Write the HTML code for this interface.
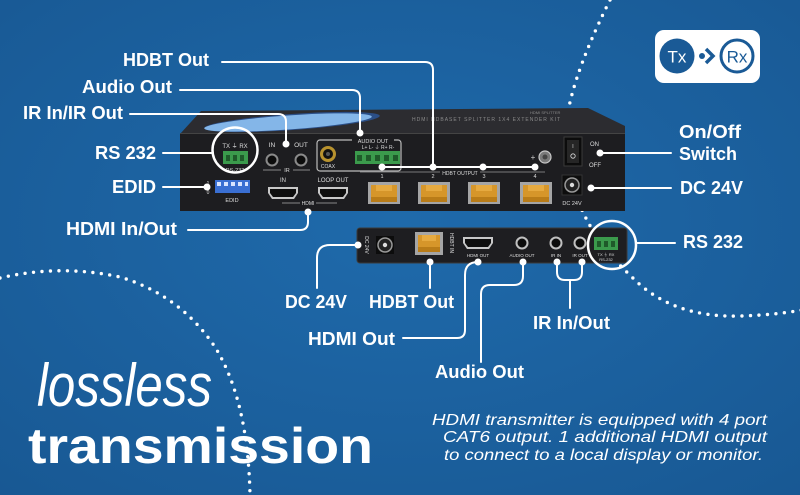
<!DOCTYPE html>
<html><head><meta charset="utf-8"><style>
html,body{margin:0;padding:0;width:800px;height:495px;overflow:hidden;background:#1c62a0}
svg{display:block}
text{font-family:"Liberation Sans",sans-serif}
</style></head><body>
<svg width="800" height="495" viewBox="0 0 800 495" xmlns="http://www.w3.org/2000/svg">
<defs>
<radialGradient id="bg" cx="50%" cy="45%" r="75%">
<stop offset="0" stop-color="#1f6aab"/>
<stop offset="1" stop-color="#185893"/>
</radialGradient>
</defs>
<rect width="800" height="495" fill="url(#bg)"/>

<!-- dotted arcs -->
<g fill="none" stroke="#fff" stroke-width="3.4" stroke-linecap="round" stroke-dasharray="0 8.5">
<path d="M610,0 Q565,90 565,140 Q570,220 630,275 Q670,318 740,316 Q775,315 802,310"/>
<path d="M0,278 Q60,264 120,277 Q180,295 215,347 Q248,400 250,495"/>
</g>

<!-- Tx > Rx badge -->
<rect x="655" y="30" width="105" height="53" rx="9" fill="#fff"/>
<circle cx="677" cy="56" r="17.5" fill="#1a5a96"/>
<text x="677" y="62.5" font-size="17" fill="#fff" text-anchor="middle">Tx</text>
<circle cx="702" cy="56" r="3" fill="#1a5a96"/>
<path d="M706,49 L713,56 L706,63" fill="none" stroke="#1a5a96" stroke-width="3.5"/>
<circle cx="737" cy="56" r="16" fill="#fff" stroke="#1a5a96" stroke-width="3"/>
<text x="737" y="62.5" font-size="17" fill="#1a5a96" text-anchor="middle">Rx</text>

<!-- Transmitter -->
<polygon points="180,134 201,111 588,108 625,126 625,134" fill="#2c2c30"/>
<ellipse cx="292" cy="122" rx="88" ry="8" fill="#2b4f88" transform="rotate(-4 292 122)"/>
<ellipse cx="288" cy="122.5" rx="84" ry="7" fill="#84b6e8" transform="rotate(-4 288 122)"/>
<text x="412" y="121" font-size="5" fill="#8a8a8a" letter-spacing="1">HDMI HDBASET SPLITTER 1X4 EXTENDER KIT</text>
<text x="530" y="114" font-size="4" fill="#8a8a8a">HDMI SPLITTER</text>
<rect x="180" y="133" width="445" height="78" fill="#1d1d20"/>
<line x1="180" y1="133.5" x2="625" y2="133.5" stroke="#444" stroke-width="1"/>

<!-- RS232 tx -->
<text x="235" y="148" font-size="6" fill="#ddd" text-anchor="middle">TX ⏚ RX</text>
<rect x="223" y="151" width="25" height="13" fill="#3b9a4c"/>
<rect x="226" y="155" width="4" height="6" fill="#1f5a2a"/><rect x="233" y="155" width="4" height="6" fill="#1f5a2a"/><rect x="240" y="155" width="4" height="6" fill="#1f5a2a"/>
<text x="235" y="172" font-size="5.5" fill="#ddd" text-anchor="middle">RS-232</text>
<circle cx="235" cy="150" r="22.5" fill="none" stroke="#fff" stroke-width="2.5"/>

<!-- IR -->
<text x="272" y="147" font-size="6.5" fill="#ddd" text-anchor="middle">IN</text>
<text x="301" y="147" font-size="6.5" fill="#ddd" text-anchor="middle">OUT</text>
<circle cx="272" cy="160" r="5.5" fill="#0c0c0c" stroke="#8a8a8a" stroke-width="2"/>
<circle cx="301" cy="160" r="5.5" fill="#0c0c0c" stroke="#8a8a8a" stroke-width="2"/>
<line x1="263" y1="170" x2="281" y2="170" stroke="#aaa" stroke-width="0.8"/>
<text x="287" y="172" font-size="5.5" fill="#ddd" text-anchor="middle">IR</text>
<line x1="293" y1="170" x2="310" y2="170" stroke="#aaa" stroke-width="0.8"/>

<!-- EDID -->
<text x="208" y="185" font-size="5" fill="#ddd" text-anchor="middle">1</text>
<text x="208" y="194" font-size="5" fill="#ddd" text-anchor="middle">0</text>
<rect x="215" y="180" width="35" height="13" fill="#3a6fd2"/>
<g fill="#d8e4ff"><rect x="217" y="182" width="4" height="4"/><rect x="224" y="182" width="4" height="4"/><rect x="231" y="182" width="4" height="4"/><rect x="238" y="182" width="4" height="4"/><rect x="245" y="182" width="3" height="4"/></g>
<text x="232" y="202" font-size="5.5" fill="#ddd" text-anchor="middle">EDID</text>

<!-- HDMI ports -->
<text x="283" y="182" font-size="6" fill="#ddd" text-anchor="middle">IN</text>
<text x="333" y="182" font-size="6" fill="#ddd" text-anchor="middle">LOOP OUT</text>
<path d="M268,187 h30 v6 l-4,6 h-22 l-4,-6 z" fill="#c8c8c8"/>
<path d="M270,189 h26 v4 l-3,4 h-20 l-3,-4 z" fill="#0e0e0e"/>
<path d="M318,187 h30 v6 l-4,6 h-22 l-4,-6 z" fill="#c8c8c8"/>
<path d="M320,189 h26 v4 l-3,4 h-20 l-3,-4 z" fill="#0e0e0e"/>
<line x1="282" y1="203" x2="300" y2="203" stroke="#aaa" stroke-width="0.8"/>
<text x="308" y="205" font-size="5" fill="#ddd" text-anchor="middle">HDMI</text>
<line x1="316" y1="203" x2="337" y2="203" stroke="#aaa" stroke-width="0.8"/>

<!-- Audio -->
<rect x="317" y="140" width="84" height="31" rx="3" fill="none" stroke="#bbb" stroke-width="1.2"/>
<rect x="352" y="137" width="42" height="7" fill="#1d1d20"/>
<text x="373" y="143" font-size="5.5" fill="#ddd" text-anchor="middle">AUDIO OUT</text>
<circle cx="328" cy="154" r="8" fill="#b8922e"/>
<circle cx="328" cy="154" r="5" fill="#111"/>
<circle cx="328" cy="154" r="2" fill="#555"/>
<text x="328" y="168" font-size="5" fill="#ddd" text-anchor="middle">COAX</text>
<text x="378" y="149" font-size="5" fill="#ddd" text-anchor="middle">L+ L- ⏚ R+ R-</text>
<rect x="355" y="151" width="45" height="13" fill="#3b9a4c"/>
<g fill="#1f5a2a"><rect x="357" y="155" width="5" height="6"/><rect x="366" y="155" width="5" height="6"/><rect x="375" y="155" width="5" height="6"/><rect x="384" y="155" width="5" height="6"/><rect x="393" y="155" width="5" height="6"/></g>

<!-- HDBT output labels -->
<line x1="360" y1="172" x2="545" y2="172" stroke="#999" stroke-width="0.8"/>
<rect x="440" y="169" width="40" height="6" fill="#1d1d20"/>
<text x="382" y="178" font-size="5.5" fill="#ddd" text-anchor="middle">1</text>
<text x="433" y="178" font-size="5.5" fill="#ddd" text-anchor="middle">2</text>
<text x="460" y="175" font-size="5" fill="#ddd" text-anchor="middle">HDBT OUTPUT</text>
<text x="484" y="178" font-size="5.5" fill="#ddd" text-anchor="middle">3</text>
<text x="535" y="178" font-size="5.5" fill="#ddd" text-anchor="middle">4</text>

<!-- RJ45 ports tx -->
<g>
<g transform="translate(368,182)"><rect width="32" height="22" fill="#a5a5a5"/><rect x="3" y="3" width="26" height="17" fill="#d6962a"/><rect x="8" y="3" width="16" height="6" fill="#e6aa40"/><rect x="3" y="15" width="26" height="5" fill="#b97c18"/></g>
<g transform="translate(418,182)"><rect width="32" height="22" fill="#a5a5a5"/><rect x="3" y="3" width="26" height="17" fill="#d6962a"/><rect x="8" y="3" width="16" height="6" fill="#e6aa40"/><rect x="3" y="15" width="26" height="5" fill="#b97c18"/></g>
<g transform="translate(468,182)"><rect width="32" height="22" fill="#a5a5a5"/><rect x="3" y="3" width="26" height="17" fill="#d6962a"/><rect x="8" y="3" width="16" height="6" fill="#e6aa40"/><rect x="3" y="15" width="26" height="5" fill="#b97c18"/></g>
<g transform="translate(520,182)"><rect width="32" height="22" fill="#a5a5a5"/><rect x="3" y="3" width="26" height="17" fill="#d6962a"/><rect x="8" y="3" width="16" height="6" fill="#e6aa40"/><rect x="3" y="15" width="26" height="5" fill="#b97c18"/></g>
</g>

<!-- ground, switch, DC -->
<text x="533" y="160" font-size="8" fill="#ccc" text-anchor="middle">+</text>
<circle cx="545" cy="157" r="6" fill="#7a7a7a" stroke="#c8c8c8" stroke-width="1.2"/>
<circle cx="545" cy="157" r="2.5" fill="#444"/>
<rect x="564" y="137" width="18" height="29" fill="#0c0c0c" stroke="#3a3a3a"/>
<rect x="567" y="140" width="12" height="23" fill="#262626"/>
<text x="573" y="148" font-size="5" fill="#ddd" text-anchor="middle">I</text>
<circle cx="573" cy="156" r="2.2" fill="none" stroke="#ddd" stroke-width="0.8"/>
<text x="590" y="146" font-size="6" fill="#ddd">ON</text>
<text x="589" y="167" font-size="6" fill="#ddd">OFF</text>
<rect x="562" y="175" width="20" height="20" fill="#0d0d0d" stroke="#333"/>
<circle cx="572" cy="185" r="7" fill="#222" stroke="#999" stroke-width="1.5"/>
<circle cx="572" cy="185" r="2.2" fill="#ddd"/>
<text x="572" y="205" font-size="5.5" fill="#ddd" text-anchor="middle">DC 24V</text>

<!-- Receiver -->
<rect x="357" y="228" width="270" height="35" rx="3" fill="#1e1e21" stroke="#3a3a3a" stroke-width="1"/>
<text transform="translate(365,245) rotate(90)" font-size="5" fill="#ddd" text-anchor="middle">DC 24V</text>
<rect x="376" y="236" width="18" height="18" fill="#0c0c0c"/>
<circle cx="385" cy="245" r="7" fill="#222" stroke="#999" stroke-width="1.5"/>
<circle cx="385" cy="245" r="2.2" fill="#ddd"/>
<g transform="translate(415,232)"><rect width="28" height="23" fill="#a5a5a5"/><rect x="3" y="3" width="22" height="17" fill="#d6962a"/><rect x="7" y="3" width="14" height="6" fill="#e6aa40"/><rect x="3" y="15" width="22" height="5" fill="#b97c18"/></g>
<text transform="translate(450,243) rotate(90)" font-size="5" fill="#ddd" text-anchor="middle">HDBT IN</text>
<path d="M463,237 h30 v6 l-4,6 h-22 l-4,-6 z" fill="#c8c8c8"/>
<path d="M465,239 h26 v4 l-3,4 h-20 l-3,-4 z" fill="#0e0e0e"/>
<text x="478" y="257" font-size="4.5" fill="#ddd" text-anchor="middle">HDMI OUT</text>
<circle cx="522" cy="243" r="5.5" fill="#0c0c0c" stroke="#c0c0c0" stroke-width="2"/>
<text x="522" y="257" font-size="4.5" fill="#ddd" text-anchor="middle">AUDIO OUT</text>
<circle cx="556" cy="243" r="5.5" fill="#0c0c0c" stroke="#c0c0c0" stroke-width="2"/>
<text x="556" y="257" font-size="4.5" fill="#ddd" text-anchor="middle">IR IN</text>
<circle cx="580" cy="243" r="5.5" fill="#0c0c0c" stroke="#c0c0c0" stroke-width="2"/>
<text x="580" y="257" font-size="4.5" fill="#ddd" text-anchor="middle">IR OUT</text>
<rect x="594" y="237" width="24" height="13" fill="#3b9a4c"/>
<g fill="#1f5a2a"><rect x="597" y="241" width="4" height="6"/><rect x="604" y="241" width="4" height="6"/><rect x="611" y="241" width="4" height="6"/></g>
<text x="606" y="256" font-size="4" fill="#ddd" text-anchor="middle">TX ⏚ RX</text>
<text x="606" y="261" font-size="4" fill="#ddd" text-anchor="middle">RS-232</text>
<circle cx="612" cy="245" r="24" fill="none" stroke="#fff" stroke-width="2.5"/>

<!-- connectors -->
<g fill="none" stroke="#fff" stroke-width="2" stroke-linecap="round">
<path d="M222,62 L425,62 Q433,62 433,70 L433,167"/>
<path d="M382,167 L535,167"/>
<path d="M180,90 L352,90 Q360,90 360,98 L360,133"/>
<path d="M130,114 L278,114 Q286,114 286,122 L286,144"/>
<path d="M163,153 L213,153"/>
<path d="M163,187 L207,187"/>
<path d="M188,230 L300,230 Q308,230 308,222 L308,212"/>
<path d="M600,153 L671,153"/>
<path d="M591,188 L671,188"/>
<path d="M637,243 L675,243"/>
<path d="M358,245 L330,245 Q317,245 317,258 L317,288"/>
<path d="M430,262 L430,288"/>
<path d="M478,262 Q465,262 465,275 L465,330 Q465,338 457,338 L403,338"/>
<path d="M523,262 L523,276 Q523,285 514,285 L490,285 Q481,285 481,294 L481,362"/>
<path d="M557,262 L557,272 Q557,280 565,280 L574,280 Q582,280 582,272 L582,262"/>
<path d="M570,280 L570,308"/>
</g>
<g fill="#fff">
<circle cx="433" cy="167" r="3.5"/><circle cx="382" cy="167" r="3.5"/><circle cx="483" cy="167" r="3.5"/><circle cx="535" cy="167" r="3.5"/>
<circle cx="360" cy="133" r="3.5"/><circle cx="286" cy="144" r="3.5"/><circle cx="207" cy="187" r="3.5"/><circle cx="308" cy="212" r="3.5"/>
<circle cx="600" cy="153" r="3.5"/><circle cx="591" cy="188" r="3.5"/>
<circle cx="358" cy="245" r="3.5"/><circle cx="430" cy="262" r="3.5"/><circle cx="478" cy="262" r="3.5"/><circle cx="523" cy="262" r="3.5"/><circle cx="557" cy="262" r="3.5"/><circle cx="582" cy="262" r="3.5"/>
</g>

<!-- labels -->
<g fill="#fff" font-weight="bold" font-size="18">
<text x="123" y="66" textLength="86" lengthAdjust="spacingAndGlyphs">HDBT Out</text>
<text x="82" y="93" textLength="90" lengthAdjust="spacingAndGlyphs">Audio Out</text>
<text x="23" y="119" textLength="100" lengthAdjust="spacingAndGlyphs">IR In/IR Out</text>
<text x="95" y="159" textLength="61" lengthAdjust="spacingAndGlyphs">RS 232</text>
<text x="112" y="193" textLength="44" lengthAdjust="spacingAndGlyphs">EDID</text>
<text x="66" y="235" textLength="111" lengthAdjust="spacingAndGlyphs">HDMI In/Out</text>
<text x="679" y="138" textLength="62" lengthAdjust="spacingAndGlyphs">On/Off</text>
<text x="679" y="160" textLength="58" lengthAdjust="spacingAndGlyphs">Switch</text>
<text x="680" y="194" textLength="63" lengthAdjust="spacingAndGlyphs">DC 24V</text>
<text x="683" y="248" textLength="60" lengthAdjust="spacingAndGlyphs">RS 232</text>
<text x="285" y="308" textLength="62" lengthAdjust="spacingAndGlyphs">DC 24V</text>
<text x="369" y="308" textLength="85" lengthAdjust="spacingAndGlyphs">HDBT Out</text>
<text x="308" y="345" textLength="87" lengthAdjust="spacingAndGlyphs">HDMI Out</text>
<text x="435" y="378" textLength="89" lengthAdjust="spacingAndGlyphs">Audio Out</text>
<text x="533" y="329" textLength="77" lengthAdjust="spacingAndGlyphs">IR In/Out</text>
</g>

<!-- headline -->
<text x="37" y="406" font-family="Liberation Serif, serif" font-style="italic" font-size="60" fill="#fff" textLength="175" lengthAdjust="spacingAndGlyphs">lossless</text>
<text x="28" y="463" font-weight="bold" font-size="50" fill="#fff" textLength="345" lengthAdjust="spacingAndGlyphs">transmission</text>

<!-- paragraph -->
<g fill="#fff" font-style="italic" font-size="16">
<text x="432" y="425" textLength="335" lengthAdjust="spacingAndGlyphs">HDMI transmitter is equipped with 4 port</text>
<text x="443" y="442" textLength="324" lengthAdjust="spacingAndGlyphs">CAT6 output. 1 additional HDMI output</text>
<text x="444" y="460" textLength="319" lengthAdjust="spacingAndGlyphs">to connect to a local display or monitor.</text>
</g>
</svg>
</body></html>
